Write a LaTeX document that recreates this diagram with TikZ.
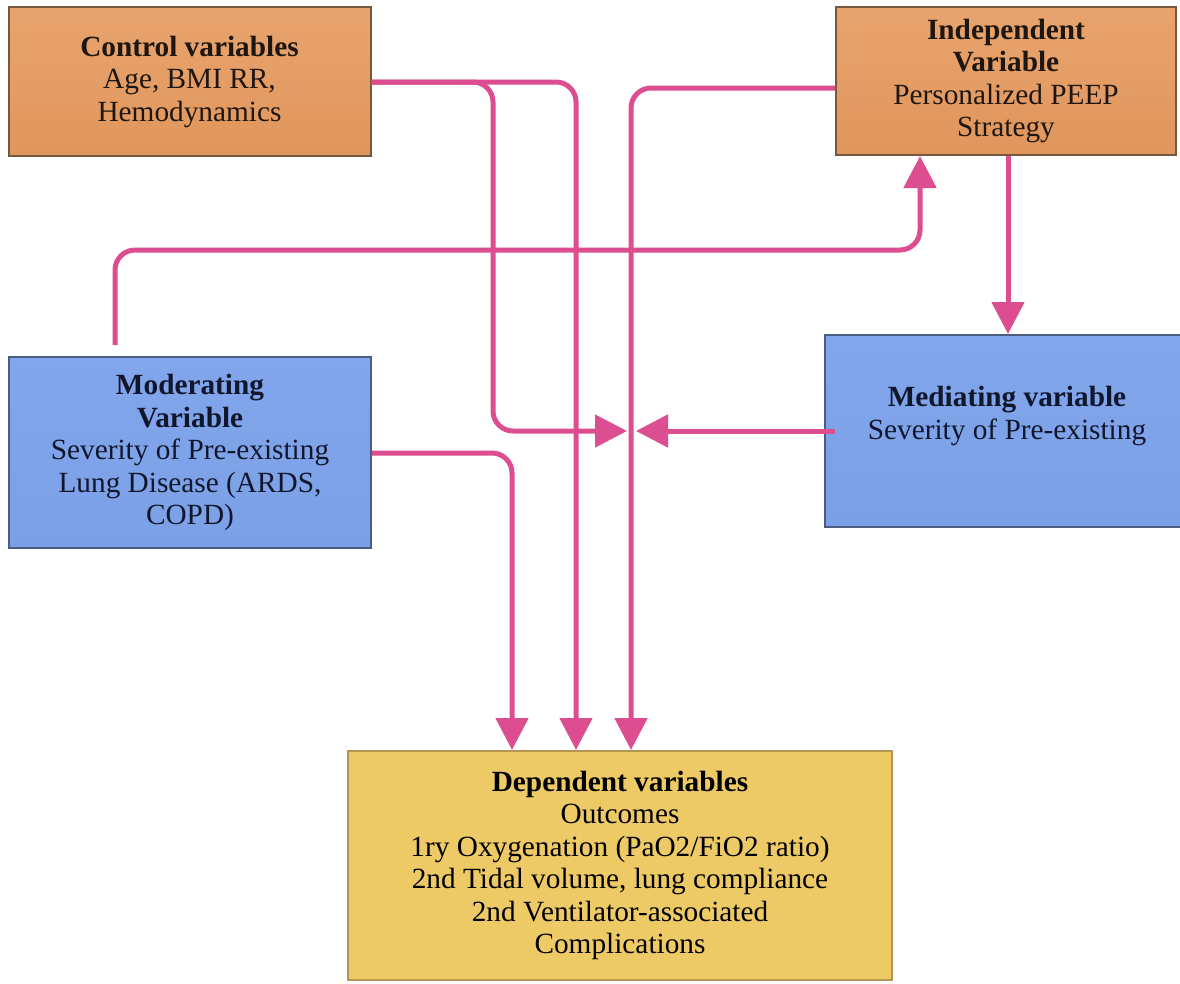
\documentclass[tikz,border=0pt]{standalone}
\usepackage{fontspec}
\setmainfont{Liberation Serif}
\usetikzlibrary{arrows.meta}
\definecolor{pinkc}{RGB}{221,78,145}
\definecolor{orangetop}{RGB}{232,164,110}
\definecolor{orangebot}{RGB}{224,150,92}
\definecolor{orangeline}{RGB}{118,88,60}
\definecolor{bluetop}{RGB}{130,166,236}
\definecolor{bluebot}{RGB}{124,160,230}
\definecolor{blueline}{RGB}{74,92,132}
\definecolor{yellowfill}{RGB}{238,202,102}
\definecolor{yellowline}{RGB}{180,150,80}
\definecolor{darktxt}{RGB}{30,22,16}
\definecolor{navytxt}{RGB}{16,22,44}
\tikzset{
  box/.style={draw, line width=2pt, inner sep=0pt, align=center,
    font=\fontsize{29.3}{32.5}\selectfont},
  orangebox/.style={box, draw=orangeline, top color=orangetop, bottom color=orangebot, text=darktxt},
  bluebox/.style={box, draw=blueline, top color=bluetop, bottom color=bluebot, text=navytxt},
  yellowbox/.style={box, draw=yellowline, fill=yellowfill, text=black},
  conn/.style={draw=pinkc, line width=5pt, rounded corners=20pt,
    -{Triangle[width=32pt,length=32pt]}},
  txt/.style={align=center, inner sep=0pt, font=\fontsize{29.3}{32.5}\selectfont}
}
\begin{document}
\begin{tikzpicture}[x=1pt,y=-1pt]
\useasboundingbox (0,0) rectangle (1180,983);
\clip (0,0) rectangle (1180,983);
\fill[white] (0,0) rectangle (1180,983);

% boxes
\node[orangebox, minimum width=362pt, minimum height=149pt] (ctrl) at (189.5,81.5)
  {\textbf{Control variables}\\Age, BMI RR,\\Hemodynamics};
\node[orangebox, minimum width=340pt, minimum height=148pt] (ind) at (1006,81)
  {\textbf{Independent}\\\textbf{Variable}\\Personalized PEEP\\Strategy};
\node[bluebox, minimum width=362pt, minimum height=191pt] (mod) at (190,452.5)
  {\textbf{Moderating}\\\textbf{Variable}\\Severity of Pre-existing\\Lung Disease (ARDS,\\COPD)};
\node[bluebox, minimum width=366pt, minimum height=192pt] (med) at (1008,431) {};
\node[txt, text=navytxt] (medtext) at (1007,416)
  {\textbf{Mediating variable}\\Severity of Pre-existing};
\node[yellowbox, minimum width=544pt, minimum height=229pt] (dep) at (620,865.5)
  {\textbf{Dependent variables}\\Outcomes\\1ry Oxygenation (PaO2/FiO2 ratio)\\2nd Tidal volume, lung compliance\\2nd Ventilator-associated\\Complications};

% helper coordinates
\coordinate (yA) at (0,82);
\coordinate (yB) at (0,88);
\coordinate (yC) at (0,250);
\coordinate (yJ) at (0,431);
\coordinate (yM) at (0,453);
\coordinate (yModTop) at (0,345);
\coordinate (xMod) at (115,0);
\coordinate (xBr) at (493,0);
\coordinate (xD1) at (512,0);
\coordinate (xD2) at (576,0);
\coordinate (xD3) at (631,0);
\coordinate (xUp) at (920,0);
\coordinate (xDn) at (1008,0);
\coordinate (jL) at (627,431);
\coordinate (jR) at (636,431);
\coordinate (medIn) at (835,431);

% connectors
\draw[conn] (ctrl.east |- yA) -- (xD2 |- yA) -- (xD2 |- dep.north);
\draw[conn] (ctrl.east |- yA) -- (xBr |- yA) -- (xBr |- yJ) -- (jL);
\draw[conn] (ind.west |- yB) -- (xD3 |- yB) -- (xD3 |- dep.north);
\draw[conn] (xMod |- yModTop) -- (xMod |- yC) -- (xUp |- yC) -- (xUp |- ind.south);
\draw[conn] (xDn |- ind.south) -- (xDn |- med.north);
\draw[conn] (medIn) -- (jR);
\draw[conn] (mod.east |- yM) -- (xD1 |- yM) -- (xD1 |- dep.north);
\end{tikzpicture}
\end{document}
